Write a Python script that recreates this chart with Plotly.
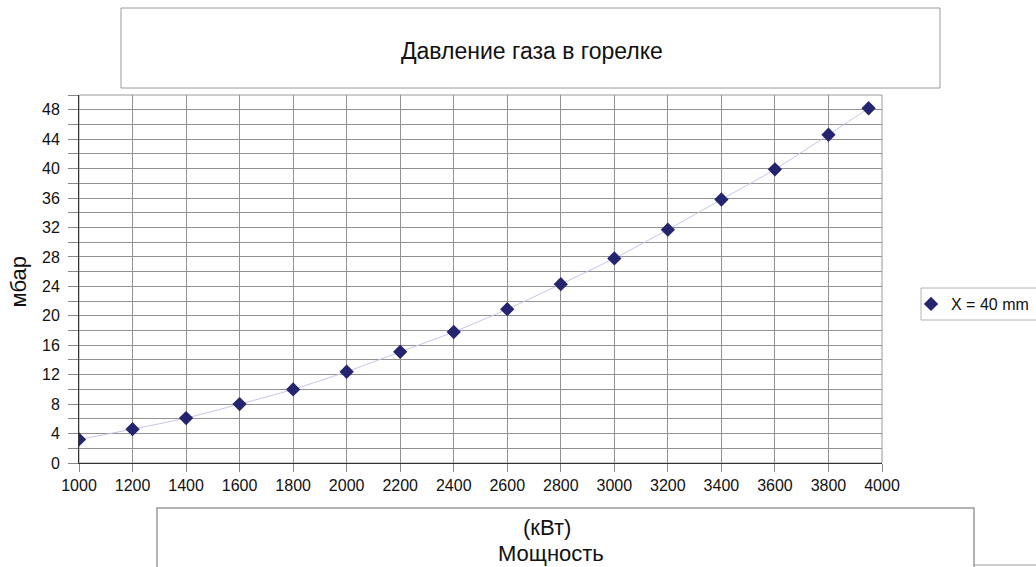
import plotly.graph_objects as go

# ---- data ----
power_kw = [1000, 1200, 1400, 1600, 1800, 2000, 2200, 2400, 2600, 2800,
            3000, 3200, 3400, 3600, 3800, 3950]
pressure_mbar = [3.2, 4.6, 6.1, 8.0, 10.0, 12.4, 15.1, 17.8, 20.9, 24.3,
                 27.8, 31.7, 35.8, 39.9, 44.6, 48.2]
series_name = "X = 40 mm"
x_ticks = list(range(1000, 4001, 200))
title_text = "Давление газа в горелке"
y_title = "мбар"
x_title_1 = "(кВт)"
x_title_2 = "Мощность"

W, H = 1036, 567
ML, MR, MT, MB = 79, 154, 95, 104
PW, PH = W - ML - MR, H - MT - MB


def px(x):
    return (x - ML) / PW


def py(y):
    return (H - MB - y) / PH


FONT = "Liberation Sans, Arial, sans-serif"

fig = go.Figure()
# smoothed connecting line (no legend entry)
fig.add_trace(go.Scatter(
    x=power_kw, y=pressure_mbar, name=series_name, showlegend=False,
    mode="lines", hoverinfo="skip",
    line=dict(color="#c6c6e6", width=1, shape="spline", smoothing=0.6),
))
# markers (legend entry shows the diamond only)
fig.add_trace(go.Scatter(
    x=power_kw, y=pressure_mbar, name=series_name,
    mode="markers",
    marker=dict(symbol="diamond", size=11, color="#24246f",
                line=dict(width=0)),
))

fig.update_layout(
    width=W, height=H,
    margin=dict(l=ML, r=MR, t=MT, b=MB, autoexpand=False),
    paper_bgcolor="white", plot_bgcolor="white",
    font=dict(family=FONT, size=16, color="#111"),
    showlegend=True,
    legend=dict(x=px(911), y=py(287), xanchor="left", yanchor="top",
                borderwidth=0, bgcolor="rgba(0,0,0,0)",
                font=dict(size=16, family=FONT), itemwidth=30),
    xaxis=dict(range=[1000, 4000], tickvals=x_ticks, showgrid=True,
               gridcolor="#929292", gridwidth=1, zeroline=False,
               showline=True, linecolor="#333", linewidth=1,
               ticks="outside", ticklen=8, tickcolor="#888",
               tickfont=dict(size=16, family=FONT)),
    yaxis=dict(range=[0, 50], dtick=4, tick0=0, showgrid=True,
               gridcolor="#929292", gridwidth=1, zeroline=False,
               showline=True, linecolor="#333", linewidth=1,
               ticks="outside", ticklen=10, tickcolor="#888",
               ticklabelstandoff=5,
               tickfont=dict(size=16, family=FONT),
               minor=dict(dtick=2, showgrid=True, gridcolor="#929292",
                          gridwidth=1, ticks="outside", ticklen=10,
                          tickcolor="#888")),
)

shapes = [
    # plot area frame (top / right)
    dict(type="rect", xref="paper", yref="paper", x0=0, x1=1, y0=0, y1=1,
         line=dict(color="#9a9a9a", width=1), layer="below"),
    # title box
    dict(type="rect", xref="paper", yref="paper", x0=px(121), x1=px(940),
         y0=py(88), y1=py(8), line=dict(color="#9a9a9a", width=1)),
    # legend box
    dict(type="rect", xref="paper", yref="paper", x0=px(921), x1=px(1040),
         y0=py(320), y1=py(288), line=dict(color="#b4b4b4", width=1)),
    # bottom axis-title box
    dict(type="rect", xref="paper", yref="paper", x0=px(157), x1=px(974),
         y0=py(600), y1=py(508), line=dict(color="#9a9a9a", width=1.5)),
    dict(type="line", xref="paper", yref="paper", x0=px(974), x1=px(1040),
         y0=py(565), y1=py(565), line=dict(color="#9a9a9a", width=1)),
]
fig.update_layout(shapes=shapes)

annotations = [
    dict(text=title_text, x=px(532), y=py(51), xref="paper", yref="paper",
         showarrow=False, xanchor="center", yanchor="middle",
         font=dict(size=23, family=FONT, color="#111")),
    dict(text=x_title_1, x=px(547), y=py(527), xref="paper", yref="paper",
         showarrow=False, xanchor="center", yanchor="middle",
         font=dict(size=22, family=FONT, color="#111")),
    dict(text=x_title_2, x=px(551), y=py(553), xref="paper", yref="paper",
         showarrow=False, xanchor="center", yanchor="middle",
         font=dict(size=22, family=FONT, color="#111")),
    dict(text=y_title, x=px(17.5), y=py(282), xref="paper", yref="paper",
         showarrow=False, xanchor="center", yanchor="middle", textangle=-90,
         font=dict(size=22, family=FONT, color="#111")),
]
fig.update_layout(annotations=annotations)

fig.write_html(
    "out.html",
    config={"displayModeBar": False},
    post_script="document.body.style.margin='0';document.body.style.overflow='hidden';",
)
